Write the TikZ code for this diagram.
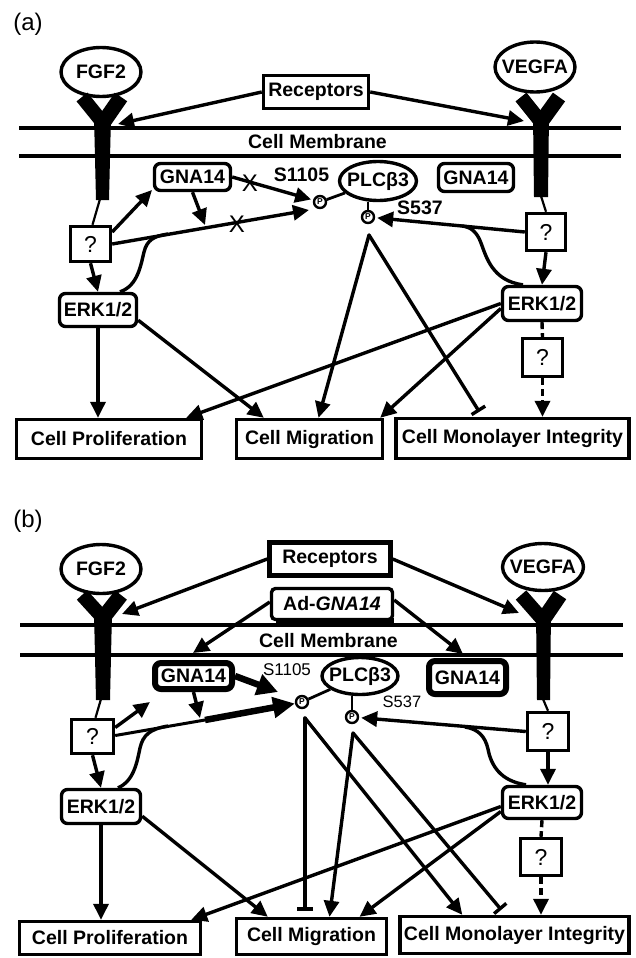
\documentclass[tikz,border=0pt]{standalone}
\usepackage{fontspec}
\setmainfont{Liberation Sans}
\usetikzlibrary{arrows.meta,shapes.geometric,calc}
\newcommand{\myfs}[1]{\fontsize{#1}{#1}\selectfont}
\begin{document}
\begin{tikzpicture}[x=1pt,y=-1pt,
  lab/.style={font=\bfseries\myfs{19.5}},
  bx/.style={draw, line width=3.4pt, inner sep=0pt, lab},
  rbx/.style={bx, rounded corners=6pt},
  ell/.style={draw, ellipse, line width=3.4pt, inner sep=0pt, lab},
  pc/.style={draw, circle, line width=2.4pt, minimum size=12pt, inner sep=0pt, font=\bfseries\myfs{8.5}},
  qbx/.style={bx, font=\myfs{23}},
  arr/.style={line width=3.4pt, -{Triangle[length=16pt,width=15pt]}},
  inh/.style={line width=3.4pt, -{Bar[width=16pt,line width=3.4pt]}},
  thinl/.style={line width=2.2pt},
  dsh/.style={line width=3.4pt, dash pattern=on 7pt off 4pt},
  memb/.style={line width=3.4pt},
  xm/.style={font=\myfs{24}, inner sep=0pt},
  curv/.style={line width=3.4pt},
  rcp/.style={fill=black}
]
\useasboundingbox (0,0) rectangle (636,958);

%%%%%%%%%%%%%%%% PANEL (a) %%%%%%%%%%%%%%%%
\node[font=\myfs{24}] (la) at (28,24) {(a)};
\node[ell, minimum width=80pt, minimum height=49pt] (fgfA) at (101,72) {\makebox[30pt]{FGF2}};
\node[ell, minimum width=80pt, minimum height=50pt] (vegA) at (535,67) {\makebox[30pt]{VEGFA}};
% receptors (Y shapes)
\draw[line width=14pt] (82,97) -- (103,123);
\draw[line width=15pt] (121,97) -- (103,123);
\fill[rcp] (94,116) -- (111,116) -- (109,200) -- (96,200) -- cycle;
\draw[line width=14pt] (521,97) -- (541,122);
\draw[line width=15pt] (559,97) -- (541,122);
\fill[rcp] (533,115) -- (549,115) -- (548,197) -- (534,197) -- cycle;
\coordinate (stemLA) at (100,199);
\coordinate (stemRA) at (541,196);

\node[bx, minimum width=105pt, minimum height=33pt] (recA) at (316,92) {Receptors};
\draw[memb] (19,128) -- (621,128);
\draw[memb] (19,156) -- (621,156);
\node[lab] (memA) at (317.5,142) {Cell Membrane};

\node[rbx, minimum width=76pt, minimum height=27pt] (gnaLA) at (192.5,177) {GNA14};
\node[rbx, minimum width=75pt, minimum height=28pt] (gnaRA) at (476,177.5) {GNA14};
\node[ell, minimum width=77pt, minimum height=39pt] (plcA) at (378,181) {\makebox[30pt]{PLCβ3}};
\node[pc] (pA1) at (320,202) {P};
\node[pc] (pA2) at (368,217) {P};
\node[lab] (s1105A) at (301.5,175) {S1105};
\node[lab] (s537A) at (420,208) {S537};

\node[qbx, minimum width=40pt, minimum height=35pt] (qLA) at (90.5,244) {?};
\node[qbx, minimum width=39pt, minimum height=37pt] (qRA) at (546,232) {?};
\node[rbx, minimum width=77pt, minimum height=33pt] (erkLA) at (98,310) {ERK1/2};
\node[rbx, minimum width=79pt, minimum height=34pt] (erkRA) at (542,303.5) {ERK1/2};
\node[qbx, minimum width=40pt, minimum height=38pt] (qR2A) at (542.5,357.5) {?};

\node[bx, minimum width=185pt, minimum height=39pt] (prolA) at (109,439) {Cell Proliferation};
\node[bx, minimum width=146pt, minimum height=39pt] (migA) at (309.5,439) {Cell Migration};
\node[bx, minimum width=233pt, minimum height=40pt] (monoA) at (512.5,438.5) {Cell Monolayer Integrity};

\node[xm] (xA1) at (250,183) {X};
\node[xm] (xA2) at (237,224) {X};

\coordinate (fgfRA) at (118,124);
\coordinate (vegRA) at (524,121);
\coordinate (tA1) at (309,210);
\coordinate (mA1) at (205,225);
\coordinate (tgA) at (152,190);
\coordinate (jLA) at (168,234);
\coordinate (jRA) at (462,226);
\coordinate (aA) at (369,235);

\draw[arr] (recA.west) -- (fgfRA);
\draw[arr] (recA.east) -- (vegRA);
\draw[thinl] (stemLA) -- ($(qLA.north)+(2,0)$);
\draw[thinl] (stemRA) -- (qRA.north);
\draw[arr] ($(qLA.east)+(0,-12)$) -- (tgA);
\draw[arr] (qLA.east) -- (tA1);
\draw[arr] (gnaLA.south) -- (mA1);
\draw[arr, shorten >=2pt] (gnaLA.east) -- (pA1);
\draw[line width=2.8pt] (pA1) -- (plcA);
\draw[line width=2.8pt] (pA2) -- (pA2 |- plcA.south);
\draw[arr, shorten >=2pt] (qRA.west) -- (pA2);
\draw[curv] ($(erkLA.north)+(22,0)$) .. controls (138,286) and (141,264) .. (144,252) .. controls (147,240) and (154,236) .. (jLA);
\draw[curv] ($(erkRA.north)+(-19,0)$) .. controls (492,281) and (486,256) .. (481,243) .. controls (477,232) and (471,227) .. (jRA);
\draw[arr] (qLA.south) -- (erkLA.north);
\draw[arr] (qRA.south) -- (erkRA.north);
\draw[dsh] (erkRA.south) -- (qR2A.north);
\draw[dsh, -{Triangle[length=16pt,width=15pt]}] (qR2A.south) -- (qR2A.south |- monoA.north);
\draw[arr] (erkLA.south) -- (erkLA.south |- prolA.north);
\draw[arr] ($(erkLA.south east)+(0,-8)$) -- ($(migA.north west)+(29,0)$);
\draw[arr] (erkRA.west) -- ($(prolA.north east)+(-17,0)$);
\draw[arr] ($(erkRA.west)+(0,5)$) -- ($(migA.north east)+(-4,0)$);
\draw[arr, line cap=round] (aA) -- ($(migA.north)+(9,0)$);
\draw[inh, line cap=round] (aA) -- ($(monoA.north west)+(85,-5)$);

%%%%%%%%%%%%%%%% PANEL (b) %%%%%%%%%%%%%%%%
\node[font=\myfs{24}] (lb) at (28,521) {(b)};
\node[ell, minimum width=80pt, minimum height=49pt] (fgfB) at (101,569) {\makebox[30pt]{FGF2}};
\node[ell, minimum width=81pt, minimum height=47pt] (vegB) at (543,567) {\makebox[30pt]{VEGFA}};
\draw[line width=14pt] (82,595) -- (103,618);
\draw[line width=15pt] (121,595) -- (103,618);
\fill[rcp] (94,612) -- (112,612) -- (110,700) -- (96,700) -- cycle;
\draw[line width=14pt] (521,595) -- (543,620);
\draw[line width=15pt] (560,595) -- (543,620);
\fill[rcp] (536,612) -- (551,612) -- (550,700) -- (537,700) -- cycle;
\coordinate (stemLB) at (101,699);
\coordinate (stemRB) at (543,699);

\node[bx, line width=4.5pt, minimum width=121pt, minimum height=33pt] (recB) at (330,559) {Receptors};
\node[bx, rounded corners=4pt, minimum width=121pt, minimum height=31pt] (adB) at (332,604) {Ad-\textit{GNA14}};
\draw[line width=5pt] ($(adB.south west)+(6,-1)$) -- ($(adB.south east)+(0,-1)$);
\draw[memb] (20,625) -- (623,625);
\draw[memb] (20,655) -- (623,655);
\node[lab] (memB) at (328.5,640.5) {Cell Membrane};

\node[rbx, line width=6pt, minimum width=77pt, minimum height=26pt] (gnaLB) at (193.5,676) {GNA14};
\node[rbx, line width=6pt, minimum width=77pt, minimum height=33pt] (gnaRB) at (467.5,677.5) {GNA14};
\node[ell, minimum width=76pt, minimum height=37pt] (plcB) at (360,676) {\makebox[30pt]{PLCβ3}};
\node[pc] (pB1) at (302,702) {P};
\node[pc] (pB2) at (352,717) {P};
\node[font=\myfs{17}] (s1105B) at (287,670) {S1105};
\node[font=\myfs{16.5}] (s537B) at (402,702) {S537};

\node[qbx, minimum width=42pt, minimum height=34pt] (qLB) at (92.5,736.5) {?};
\node[qbx, minimum width=41pt, minimum height=38pt] (qRB) at (548,731.5) {?};
\node[rbx, minimum width=79pt, minimum height=34pt] (erkLB) at (101,806.5) {ERK1/2};
\node[rbx, minimum width=79pt, minimum height=32pt] (erkRB) at (542,802.5) {ERK1/2};
\node[qbx, minimum width=41pt, minimum height=37pt] (qR2B) at (541,857) {?};

\node[bx, minimum width=181pt, minimum height=33pt] (prolB) at (110,938) {Cell Proliferation};
\node[bx, minimum width=150pt, minimum height=36pt] (migB) at (311.5,936.5) {Cell Migration};
\node[bx, minimum width=229pt, minimum height=37pt] (monoB) at (514.5,935) {Cell Monolayer Integrity};

\coordinate (fgfRB) at (122,614);
\coordinate (vegRB) at (519,613);
\coordinate (gtL) at (193,653);
\coordinate (gtR) at (463,654);
\coordinate (tB1) at (278,692);
\coordinate (tB) at (205,720);
\coordinate (tB2) at (295,703.5);
\coordinate (mB1) at (200,718);
\coordinate (tgB) at (150,702);
\coordinate (jLB) at (168,726);
\coordinate (jRB) at (465,727);
\coordinate (aB1) at (305,718);
\coordinate (aB2) at (353,733);

\draw[arr] (recB.west) -- (fgfRB);
\draw[arr] (recB.east) -- (vegRB);
\draw[arr] ($(adB.west)+(0,-2)$) -- (gtL);
\draw[arr] ($(adB.east)+(0,-4)$) -- (gtR);
\draw[thinl] (stemLB) -- ($(qLB.north)+(3,0)$);
\draw[thinl] (stemRB) -- (qRB.north);
\draw[line width=6.5pt, -{Triangle[length=21pt,width=21pt]}] (gnaLB.east) -- (tB1);
\draw[line width=3pt] ($(qLB.east)+(0,-1)$) -- (tB);
\draw[line width=6.5pt, -{Triangle[length=22pt,width=20pt]}] (tB) -- (tB2);
\draw[arr] ($(qLB.east)+(0,-9)$) -- (tgB);
\draw[arr] (gnaLB.south) -- (mB1);
\draw[line width=2.8pt] (pB1) -- (plcB);
\draw[line width=2.8pt] (pB2) -- (pB2 |- plcB.south);
\draw[arr, shorten >=2pt] (qRB.west) -- (pB2);
\draw[curv] ($(erkLB.north)+(17,0)$) .. controls (134,781) and (137,762) .. (140,748) .. controls (143,735) and (150,729) .. (jLB);
\draw[curv] ($(erkRB.north)+(-16,0)$) .. controls (500,781) and (491,765) .. (488,749) .. controls (485,736) and (478,729) .. (jRB);
\draw[arr] (qLB.south) -- (erkLB.north);
\draw[arr] (qRB.south) -- (qRB.south |- erkRB.north);
\draw[dsh] (erkRB.south) -- (qR2B.north);
\draw[dsh, -{Triangle[length=16pt,width=15pt]}] (qR2B.south) -- (qR2B.south |- monoB.north);
\draw[arr] (erkLB.south) -- (erkLB.south |- prolB.north);
\draw[arr] ($(erkLB.south east)+(0,-9)$) -- ($(migB.north west)+(33,0)$);
\draw[arr] ($(erkRB.west)+(0,4)$) -- ($(prolB.north east)+(-11,0)$);
\draw[arr] ($(erkRB.west)+(0,9)$) -- ($(migB.north)+(48,0)$);
\draw[inh, line cap=round] (aB1) -- ($(aB1 |- migB.north)+(0,-6)$);
\draw[arr, line cap=round] (aB1) -- ($(monoB.north west)+(64,0)$);
\draw[arr, line cap=round] (aB2) -- ($(migB.north)+(18,0)$);
\draw[inh, line cap=round] (aB2) -- ($(monoB.north west)+(103,-5)$);
\end{tikzpicture}
\end{document}
